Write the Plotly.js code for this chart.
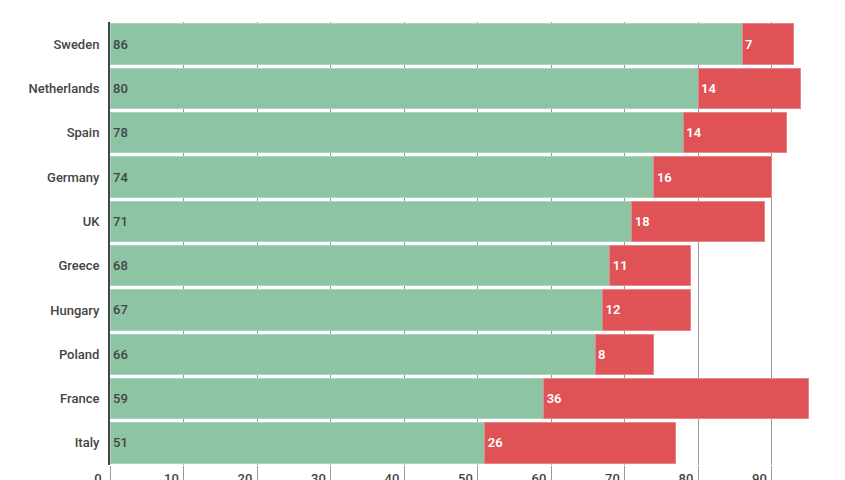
<!DOCTYPE html>
<html>
<head>
<meta charset="utf-8">
<script src="https://cdn.plot.ly/plotly-3.0.1.min.js"></script>
<style>
  html, body { margin: 0; padding: 0; background: #fff; }
  #chart { width: 845px; height: 480px; }
</style>
</head>
<body>
<div id="chart"></div>
<script>
const countries = ['Sweden', 'Netherlands', 'Spain', 'Germany', 'UK', 'Greece', 'Hungary', 'Poland', 'France', 'Italy']
const green_vals = [86, 80, 78, 74, 71, 68, 67, 66, 59, 51]
const red_vals = [7, 14, 14, 16, 18, 11, 12, 8, 36, 26]
const x_ticks = [0, 10, 20, 30, 40, 50, 60, 70, 80, 90]

const green = '#8cc4a4'
const red = '#df5256'

function make_trace(vals, color, text_color, line_color, weight) {
    return {
        type: 'bar',
        orientation: 'h',
        y: countries,
        x: vals,
        text: vals.map(String),
        textposition: 'inside',
        insidetextanchor: 'start',
        constraintext: 'none',
        textfont: { family: 'Roboto', size: 13, color: text_color, weight: weight },
        marker: { color: color, line: { color: line_color, width: 1 } },
        hoverinfo: 'none'
    }
}

let data = [
    make_trace(green_vals, green, '#444', '#a9d3bb', 500),
    make_trace(red_vals, red, '#fff', '#e88689', 600)
]

let layout = {
    width: 845,
    height: 480,
    margin: { l: 110, r: 0, t: 22, b: 15 },
    barmode: 'stack',
    bargap: 0.09,
    showlegend: false,
    paper_bgcolor: '#fff',
    plot_bgcolor: '#fff',
    font: { family: 'Roboto', size: 13, color: '#444' },
    xaxis: {
        range: [0, 100],
        tickvals: x_ticks,
        ticktext: x_ticks.map(String),
        showgrid: true,
        gridcolor: '#9a9a9a',
        gridwidth: 1,
        zeroline: false,
        showline: false,
        ticks: 'outside',
        ticklen: 15,
        tickcolor: '#9a9a9a',
        ticklabelshift: -12,
        ticklabelstandoff: -14,
        tickfont: { family: 'Roboto', size: 13, color: '#444', weight: 500 }
    },
    yaxis: {
        autorange: 'reversed',
        showgrid: false,
        zeroline: false,
        showline: true,
        linecolor: '#444',
        linewidth: 2,
        ticks: '',
        ticklabelstandoff: 6,
        tickfont: { family: 'Roboto', size: 13, color: '#444', weight: 500 }
    }
}

Plotly.newPlot('chart', data, layout, { displayModeBar: false, staticPlot: true })
</script>
</body>
</html>
